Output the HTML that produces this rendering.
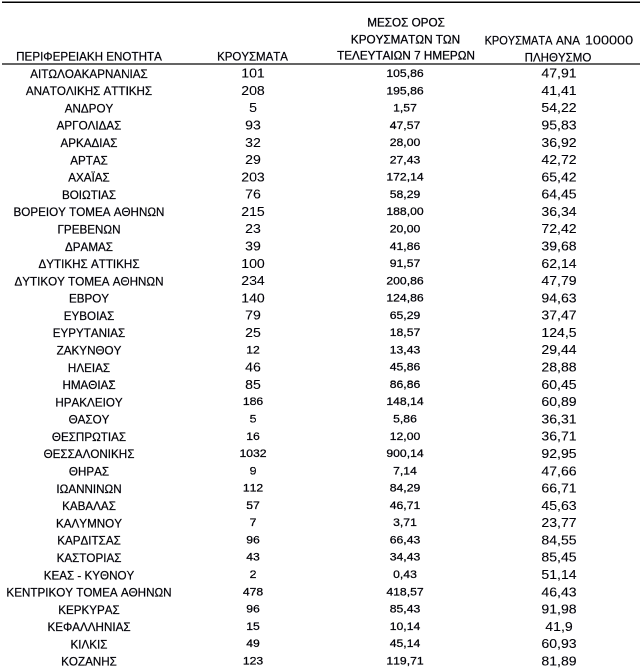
<!DOCTYPE html>
<html lang="el"><head><meta charset="utf-8"><title>Κρούσματα ανά Περιφερειακή Ενότητα</title>
<style>
html,body{margin:0;padding:0;background:#fff;}
body{width:640px;height:668px;position:relative;overflow:hidden;}
#w{position:absolute;left:0;top:0;width:1280px;height:1336px;transform-origin:0 0;transform:scale(0.5);will-change:transform;font-kerning:none;font-family:"Liberation Sans",sans-serif;color:#000008;-webkit-text-stroke:0.44px #000008;}
.t{position:absolute;white-space:nowrap;text-align:center;line-height:34.00px;height:34.00px;transform:translateX(-50%) scale(var(--s),var(--sy,1));}
.L{font-size:24.40px;--s:0.954;--sy:0.985;}
.N{font-size:25.60px;--s:1.1;--sy:1.0;-webkit-text-stroke-width:0.20px;}
.C{font-size:21.80px;--s:1.118;--sy:1.0;-webkit-text-stroke-width:0.50px;}
.H{font-size:24.00px;--s:0.975;--sy:0.99;-webkit-text-stroke-width:0.56px;}
.ln{position:absolute;left:4.00px;width:1276.00px;}
</style></head><body><div id="w">
<div class="ln" style="top:2.90px;height:3.00px;background:#000"></div>
<div class="ln" style="top:126.00px;height:4.00px;background:#646464"></div>

<div class="t L" style="left:178.00px;top:96.02px;">ΠΕΡΙΦΕΡΕΙΑΚΗ ΕΝΟΤΗΤΑ</div>
<div class="t L" style="left:504.60px;top:96.02px;--s:0.94">ΚΡΟΥΣΜΑΤΑ</div>
<div class="t H" style="left:812.10px;top:28.32px;">ΜΕΣΟΣ ΟΡΟΣ</div>
<div class="t H" style="left:811.40px;top:62.06px;">ΚΡΟΥΣΜΑΤΩΝ ΤΩΝ</div>
<div class="t H" style="left:811.80px;top:94.40px;">ΤΕΛΕΥΤΑΙΩΝ 7 ΗΜΕΡΩΝ</div>
<div class="t L" style="left:1036.60px;top:63.92px;--s:0.90">ΚΡΟΥΣΜΑΤΑ</div>
<div class="t L" style="left:1135.60px;top:63.92px;">ΑΝΑ</div>
<div class="t N" style="left:1217.80px;top:62.50px;--s:1.13">100000</div>
<div class="t L" style="left:1115.90px;top:98.22px;--s:0.945">ΠΛΗΘΥΣΜΟ</div>
<div class="t L" style="left:178.40px;top:130.72px;">ΑΙΤΩΛΟΑΚΑΡΝΑΝΙΑΣ</div>
<div class="t N" style="left:506.00px;top:129.20px;">101</div>
<div class="t C" style="left:809.60px;top:130.00px;">105,86</div>
<div class="t N" style="left:1118.00px;top:129.20px;">47,91</div>
<div class="t L" style="left:178.40px;top:165.30px;">ΑΝΑΤΟΛΙΚΗΣ ΑΤΤΙΚΗΣ</div>
<div class="t N" style="left:506.00px;top:163.78px;">208</div>
<div class="t C" style="left:809.60px;top:164.55px;">195,86</div>
<div class="t N" style="left:1118.00px;top:163.78px;">41,41</div>
<div class="t L" style="left:178.40px;top:199.88px;">ΑΝΔΡΟΥ</div>
<div class="t N" style="left:506.00px;top:198.36px;">5</div>
<div class="t C" style="left:809.60px;top:199.10px;">1,57</div>
<div class="t N" style="left:1118.00px;top:198.36px;">54,22</div>
<div class="t L" style="left:178.40px;top:234.46px;">ΑΡΓΟΛΙΔΑΣ</div>
<div class="t N" style="left:506.00px;top:232.94px;">93</div>
<div class="t C" style="left:809.60px;top:233.65px;">47,57</div>
<div class="t N" style="left:1118.00px;top:232.94px;">95,83</div>
<div class="t L" style="left:178.40px;top:269.04px;">ΑΡΚΑΔΙΑΣ</div>
<div class="t N" style="left:506.00px;top:267.52px;">32</div>
<div class="t C" style="left:809.60px;top:268.20px;">28,00</div>
<div class="t N" style="left:1118.00px;top:267.52px;">36,92</div>
<div class="t L" style="left:178.40px;top:303.62px;">ΑΡΤΑΣ</div>
<div class="t N" style="left:506.00px;top:302.10px;">29</div>
<div class="t C" style="left:809.60px;top:302.75px;">27,43</div>
<div class="t N" style="left:1118.00px;top:302.10px;">42,72</div>
<div class="t L" style="left:178.40px;top:338.20px;">ΑΧΑΪΑΣ</div>
<div class="t N" style="left:506.00px;top:336.68px;">203</div>
<div class="t C" style="left:809.60px;top:337.30px;">172,14</div>
<div class="t N" style="left:1118.00px;top:336.68px;">65,42</div>
<div class="t L" style="left:178.40px;top:372.78px;">ΒΟΙΩΤΙΑΣ</div>
<div class="t N" style="left:506.00px;top:371.26px;">76</div>
<div class="t C" style="left:809.60px;top:371.85px;">58,29</div>
<div class="t N" style="left:1118.00px;top:371.26px;">64,45</div>
<div class="t L" style="left:178.40px;top:407.36px;">ΒΟΡΕΙΟΥ ΤΟΜΕΑ ΑΘΗΝΩΝ</div>
<div class="t N" style="left:506.00px;top:405.84px;">215</div>
<div class="t C" style="left:809.60px;top:406.40px;">188,00</div>
<div class="t N" style="left:1118.00px;top:405.84px;">36,34</div>
<div class="t L" style="left:178.40px;top:441.94px;">ΓΡΕΒΕΝΩΝ</div>
<div class="t N" style="left:506.00px;top:440.42px;">23</div>
<div class="t C" style="left:809.60px;top:440.95px;">20,00</div>
<div class="t N" style="left:1118.00px;top:440.42px;">72,42</div>
<div class="t L" style="left:178.40px;top:476.52px;">ΔΡΑΜΑΣ</div>
<div class="t N" style="left:506.00px;top:475.00px;">39</div>
<div class="t C" style="left:809.60px;top:475.50px;">41,86</div>
<div class="t N" style="left:1118.00px;top:475.00px;">39,68</div>
<div class="t L" style="left:178.40px;top:511.10px;">ΔΥΤΙΚΗΣ ΑΤΤΙΚΗΣ</div>
<div class="t N" style="left:506.00px;top:509.58px;">100</div>
<div class="t C" style="left:809.60px;top:510.05px;">91,57</div>
<div class="t N" style="left:1118.00px;top:509.58px;">62,14</div>
<div class="t L" style="left:178.40px;top:545.68px;">ΔΥΤΙΚΟΥ ΤΟΜΕΑ ΑΘΗΝΩΝ</div>
<div class="t N" style="left:506.00px;top:544.16px;">234</div>
<div class="t C" style="left:809.60px;top:544.60px;">200,86</div>
<div class="t N" style="left:1118.00px;top:544.16px;">47,79</div>
<div class="t L" style="left:178.40px;top:580.26px;">ΕΒΡΟΥ</div>
<div class="t N" style="left:506.00px;top:578.74px;">140</div>
<div class="t C" style="left:809.60px;top:579.15px;">124,86</div>
<div class="t N" style="left:1118.00px;top:578.74px;">94,63</div>
<div class="t L" style="left:178.40px;top:614.84px;">ΕΥΒΟΙΑΣ</div>
<div class="t N" style="left:506.00px;top:613.32px;">79</div>
<div class="t C" style="left:809.60px;top:613.70px;">65,29</div>
<div class="t N" style="left:1118.00px;top:613.32px;">37,47</div>
<div class="t L" style="left:178.40px;top:649.42px;">ΕΥΡΥΤΑΝΙΑΣ</div>
<div class="t N" style="left:506.00px;top:647.90px;">25</div>
<div class="t C" style="left:809.60px;top:648.25px;">18,57</div>
<div class="t N" style="left:1118.00px;top:647.90px;">124,5</div>
<div class="t L" style="left:178.40px;top:684.00px;">ΖΑΚΥΝΘΟΥ</div>
<div class="t C" style="left:506.00px;top:682.80px;">12</div>
<div class="t C" style="left:809.60px;top:682.80px;">13,43</div>
<div class="t N" style="left:1118.00px;top:682.48px;">29,44</div>
<div class="t L" style="left:178.40px;top:718.58px;">ΗΛΕΙΑΣ</div>
<div class="t N" style="left:506.00px;top:717.06px;">46</div>
<div class="t C" style="left:809.60px;top:717.35px;">45,86</div>
<div class="t N" style="left:1118.00px;top:717.06px;">28,88</div>
<div class="t L" style="left:178.40px;top:753.16px;">ΗΜΑΘΙΑΣ</div>
<div class="t N" style="left:506.00px;top:751.64px;">85</div>
<div class="t C" style="left:809.60px;top:751.90px;">86,86</div>
<div class="t N" style="left:1118.00px;top:751.64px;">60,45</div>
<div class="t L" style="left:178.40px;top:787.74px;">ΗΡΑΚΛΕΙΟΥ</div>
<div class="t C" style="left:506.00px;top:786.45px;">186</div>
<div class="t C" style="left:809.60px;top:786.45px;">148,14</div>
<div class="t N" style="left:1118.00px;top:786.22px;">60,89</div>
<div class="t L" style="left:178.40px;top:822.32px;">ΘΑΣΟΥ</div>
<div class="t C" style="left:506.00px;top:821.00px;">5</div>
<div class="t C" style="left:809.60px;top:821.00px;">5,86</div>
<div class="t N" style="left:1118.00px;top:820.80px;">36,31</div>
<div class="t L" style="left:178.40px;top:856.90px;">ΘΕΣΠΡΩΤΙΑΣ</div>
<div class="t C" style="left:506.00px;top:855.55px;">16</div>
<div class="t C" style="left:809.60px;top:855.55px;">12,00</div>
<div class="t N" style="left:1118.00px;top:855.38px;">36,71</div>
<div class="t L" style="left:178.40px;top:891.48px;">ΘΕΣΣΑΛΟΝΙΚΗΣ</div>
<div class="t C" style="left:506.00px;top:890.10px;">1032</div>
<div class="t C" style="left:809.60px;top:890.10px;">900,14</div>
<div class="t N" style="left:1118.00px;top:889.96px;">92,95</div>
<div class="t L" style="left:178.40px;top:926.06px;">ΘΗΡΑΣ</div>
<div class="t C" style="left:506.00px;top:924.65px;">9</div>
<div class="t C" style="left:809.60px;top:924.65px;">7,14</div>
<div class="t N" style="left:1118.00px;top:924.54px;">47,66</div>
<div class="t L" style="left:178.40px;top:960.64px;">ΙΩΑΝΝΙΝΩΝ</div>
<div class="t C" style="left:506.00px;top:959.20px;">112</div>
<div class="t C" style="left:809.60px;top:959.20px;">84,29</div>
<div class="t N" style="left:1118.00px;top:959.12px;">66,71</div>
<div class="t L" style="left:178.40px;top:995.22px;">ΚΑΒΑΛΑΣ</div>
<div class="t C" style="left:506.00px;top:993.75px;">57</div>
<div class="t C" style="left:809.60px;top:993.75px;">46,71</div>
<div class="t N" style="left:1118.00px;top:993.70px;">45,63</div>
<div class="t L" style="left:178.40px;top:1029.80px;">ΚΑΛΥΜΝΟΥ</div>
<div class="t C" style="left:506.00px;top:1028.30px;">7</div>
<div class="t C" style="left:809.60px;top:1028.30px;">3,71</div>
<div class="t N" style="left:1118.00px;top:1028.28px;">23,77</div>
<div class="t L" style="left:178.40px;top:1064.38px;">ΚΑΡΔΙΤΣΑΣ</div>
<div class="t C" style="left:506.00px;top:1062.85px;">96</div>
<div class="t C" style="left:809.60px;top:1062.85px;">66,43</div>
<div class="t N" style="left:1118.00px;top:1062.86px;">84,55</div>
<div class="t L" style="left:178.40px;top:1098.96px;">ΚΑΣΤΟΡΙΑΣ</div>
<div class="t C" style="left:506.00px;top:1097.40px;">43</div>
<div class="t C" style="left:809.60px;top:1097.40px;">34,43</div>
<div class="t N" style="left:1118.00px;top:1097.44px;">85,45</div>
<div class="t L" style="left:178.40px;top:1133.54px;">ΚΕΑΣ - ΚΥΘΝΟΥ</div>
<div class="t C" style="left:506.00px;top:1131.95px;">2</div>
<div class="t C" style="left:809.60px;top:1131.95px;">0,43</div>
<div class="t N" style="left:1118.00px;top:1132.02px;">51,14</div>
<div class="t L" style="left:178.40px;top:1168.12px;">ΚΕΝΤΡΙΚΟΥ ΤΟΜΕΑ ΑΘΗΝΩΝ</div>
<div class="t C" style="left:506.00px;top:1166.50px;">478</div>
<div class="t C" style="left:809.60px;top:1166.50px;">418,57</div>
<div class="t N" style="left:1118.00px;top:1166.60px;">46,43</div>
<div class="t L" style="left:178.40px;top:1202.70px;">ΚΕΡΚΥΡΑΣ</div>
<div class="t C" style="left:506.00px;top:1201.05px;">96</div>
<div class="t C" style="left:809.60px;top:1201.05px;">85,43</div>
<div class="t N" style="left:1118.00px;top:1201.18px;">91,98</div>
<div class="t L" style="left:178.40px;top:1237.28px;">ΚΕΦΑΛΛΗΝΙΑΣ</div>
<div class="t C" style="left:506.00px;top:1235.60px;">15</div>
<div class="t C" style="left:809.60px;top:1235.60px;">10,14</div>
<div class="t N" style="left:1118.00px;top:1235.76px;">41,9</div>
<div class="t L" style="left:178.40px;top:1271.86px;">ΚΙΛΚΙΣ</div>
<div class="t C" style="left:506.00px;top:1270.15px;">49</div>
<div class="t C" style="left:809.60px;top:1270.15px;">45,14</div>
<div class="t N" style="left:1118.00px;top:1270.34px;">60,93</div>
<div class="t L" style="left:178.40px;top:1306.44px;">ΚΟΖΑΝΗΣ</div>
<div class="t C" style="left:506.00px;top:1304.70px;">123</div>
<div class="t C" style="left:809.60px;top:1304.70px;">119,71</div>
<div class="t N" style="left:1118.00px;top:1304.92px;">81,89</div>
</div></body></html>
